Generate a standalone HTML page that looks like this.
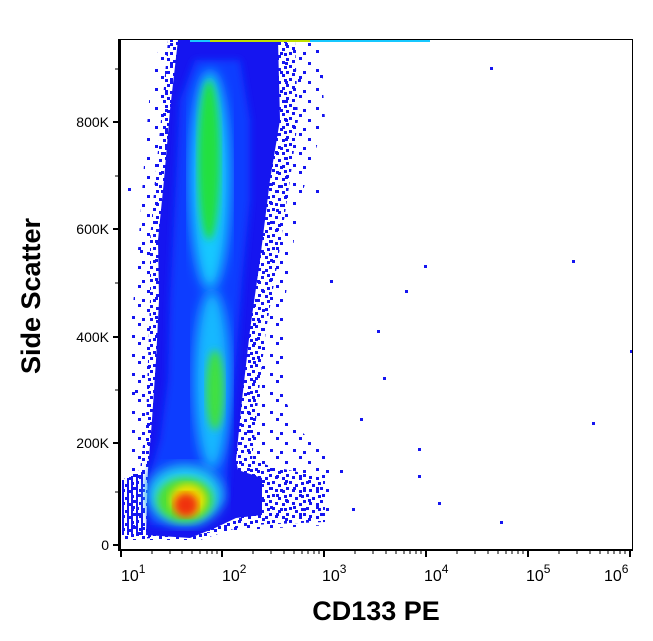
<!DOCTYPE html>
<html><head><style>body{margin:0;background:#fff}svg{display:block}</style></head>
<body>
<svg width="653" height="641" xmlns="http://www.w3.org/2000/svg" font-family="Liberation Sans, sans-serif">
<defs>
<filter id="b4"><feGaussianBlur stdDeviation="4"/></filter>
<filter id="b6"><feGaussianBlur stdDeviation="6"/></filter>
<clipPath id="c"><rect x="121" y="40" width="511" height="509"/></clipPath>
<pattern id="sp" width="17" height="13" patternUnits="userSpaceOnUse">
<rect x="0" y="0" width="3" height="3" fill="#1515f0"/><rect x="6" y="3" width="3" height="3" fill="#1515f0"/><rect x="12" y="1" width="3" height="3" fill="#1515f0"/><rect x="3" y="8" width="3" height="3" fill="#1515f0"/><rect x="10" y="9" width="3" height="3" fill="#1515f0"/><rect x="14" y="6" width="3" height="3" fill="#1515f0"/>
</pattern>
<pattern id="sp2" width="23" height="19" patternUnits="userSpaceOnUse">
<rect x="0" y="0" width="3" height="3" fill="#1515f0"/><rect x="9" y="5" width="3" height="3" fill="#1515f0"/><rect x="17" y="12" width="3" height="3" fill="#1515f0"/><rect x="4" y="14" width="3" height="3" fill="#1515f0"/>
</pattern>
</defs>
<g clip-path="url(#c)">
<path d="M128,360 L138,250 L145,150 L150,90 L160,42 L320,42 L325,120 L300,200 L285,300 L285,400 L300,430 L330,460 L330,525 L240,530 L130,540 Z" fill="url(#sp2)"/>
<path d="M122,540 L122,480 L140,470 L146,420 L148,360 L150,300 L150,240 L155,180 L162,110 L168,40 L295,40 L298,120 L290,180 L278,260 L266,330 L258,400 L252,460 L270,466 L325,478 L325,522 L250,525 L230,530 L200,540 Z" fill="url(#sp)"/>
<path d="M146,535 L148,470 L152,420 L156,360 L159,300 L158,240 L164,180 L170,110 L178,40 L278,40 L280,120 L270,180 L260,260 L250,330 L242,400 L236,460 L238,470 L262,478 L262,515 L236,518 L215,528 L190,538 Z" fill="#1515f0"/>
<path d="M148,480 L160,440 L168,380 L170,300 L175,200 L180,100 L195,60 L240,60 L250,120 L250,200 L242,280 L236,360 L230,430 L226,500 L200,525 L150,525 Z" fill="#0a3dff" filter="url(#b4)"/>
<g fill="#1515f0"><rect x="122" y="480" width="2" height="55"/><rect x="127" y="478" width="2" height="57"/><rect x="131" y="476" width="2" height="59"/><rect x="136" y="474" width="2" height="61"/><rect x="141" y="472" width="2" height="63"/></g>
<ellipse cx="210" cy="180" rx="20" ry="110" fill="#18c8ff" filter="url(#b6)"/>
<ellipse cx="212" cy="380" rx="18" ry="90" fill="#18b8ff" filter="url(#b6)"/>
<ellipse cx="185" cy="495" rx="38" ry="30" fill="#20d0f0" filter="url(#b6)"/>
<ellipse cx="209" cy="160" rx="11" ry="80" fill="#20e040" filter="url(#b4)"/>
<ellipse cx="215" cy="390" rx="9" ry="40" fill="#40e040" filter="url(#b4)"/>
<ellipse cx="185" cy="500" rx="28" ry="22" fill="#50e030" filter="url(#b4)"/>
<ellipse cx="188" cy="500" rx="18" ry="16" fill="#f0e000" filter="url(#b4)"/>
<ellipse cx="186" cy="505" rx="12" ry="12" fill="#f03010" filter="url(#b4)"/>
<rect x="190" y="39" width="240" height="3" fill="#18c8ff"/>
<rect x="210" y="39" width="100" height="3" fill="#c0e000"/>
</g>
<g fill="#1515f0">
<rect x="298" y="79" width="3" height="3"/><rect x="320" y="75" width="3" height="3"/><rect x="316" y="190" width="3" height="3"/><rect x="330" y="280" width="3" height="3"/><rect x="405" y="290" width="3" height="3"/><rect x="424" y="265" width="3" height="3"/><rect x="377" y="330" width="3" height="3"/><rect x="383" y="377" width="3" height="3"/><rect x="572" y="260" width="3" height="3"/><rect x="490" y="67" width="3" height="3"/><rect x="630" y="350" width="3" height="3"/><rect x="592" y="422" width="3" height="3"/><rect x="418" y="448" width="3" height="3"/><rect x="418" y="475" width="3" height="3"/><rect x="438" y="502" width="3" height="3"/><rect x="500" y="521" width="3" height="3"/><rect x="352" y="508" width="3" height="3"/><rect x="360" y="418" width="3" height="3"/><rect x="340" y="470" width="3" height="3"/><rect x="128" y="188" width="3" height="3"/><rect x="140" y="250" width="3" height="3"/><rect x="135" y="390" width="3" height="3"/>
</g>
<rect x="120.5" y="39.5" width="512" height="510" fill="none" stroke="#000" stroke-width="1"/>
<line x1="119" y1="39" x2="119" y2="551" stroke="#000" stroke-width="2"/>
<line x1="119" y1="550" x2="633" y2="550" stroke="#000" stroke-width="2"/>
<g stroke="#000" stroke-width="2">
<line x1="113" y1="545" x2="119" y2="545"/><line x1="113" y1="443" x2="119" y2="443"/><line x1="113" y1="337" x2="119" y2="337"/><line x1="113" y1="229" x2="119" y2="229"/><line x1="113" y1="122" x2="119" y2="122"/>
<line x1="121" y1="550" x2="121" y2="557"/><line x1="222" y1="550" x2="222" y2="557"/><line x1="324" y1="550" x2="324" y2="557"/><line x1="426" y1="550" x2="426" y2="557"/><line x1="528" y1="550" x2="528" y2="557"/><line x1="630" y1="550" x2="630" y2="557"/>
</g>
<g stroke="#000" stroke-width="1">
<line x1="115" y1="492" x2="119" y2="492"/><line x1="115" y1="390" x2="119" y2="390"/><line x1="115" y1="283" x2="119" y2="283"/><line x1="115" y1="176" x2="119" y2="176"/><line x1="115" y1="69" x2="119" y2="69"/>
<path d="M152,550v4M170,550v4M182,550v4M192,550v4M200,550v4M207,550v4M212,550v4M217,550v4M253,550v4M271,550v4M284,550v4M294,550v4M302,550v4M308,550v4M314,550v4M319,550v4M355,550v4M373,550v4M386,550v4M396,550v4M404,550v4M410,550v4M416,550v4M421,550v4M457,550v4M475,550v4M488,550v4M498,550v4M506,550v4M512,550v4M518,550v4M523,550v4M559,550v4M577,550v4M590,550v4M600,550v4M608,550v4M614,550v4M620,550v4M625,550v4"/>
</g>
<g font-size="14" text-anchor="end" fill="#000">
<text x="109" y="550">0</text><text x="109" y="448">200K</text><text x="109" y="342">400K</text><text x="109" y="234">600K</text><text x="109" y="127">800K</text>
</g>
<g font-size="16" fill="#000">
<text x="121" y="581">10<tspan font-size="12" dy="-8">1</tspan></text>
<text x="222" y="581">10<tspan font-size="12" dy="-8">2</tspan></text>
<text x="322" y="581">10<tspan font-size="12" dy="-8">3</tspan></text>
<text x="424" y="581">10<tspan font-size="12" dy="-8">4</tspan></text>
<text x="526" y="581">10<tspan font-size="12" dy="-8">5</tspan></text>
<text x="604" y="581">10<tspan font-size="12" dy="-8">6</tspan></text>
</g>
<text x="376" y="620" font-size="27" font-weight="bold" text-anchor="middle">CD133 PE</text>
<text transform="translate(40,296) rotate(-90)" font-size="27" font-weight="bold" text-anchor="middle">Side Scatter</text>
</svg>
</body></html>
